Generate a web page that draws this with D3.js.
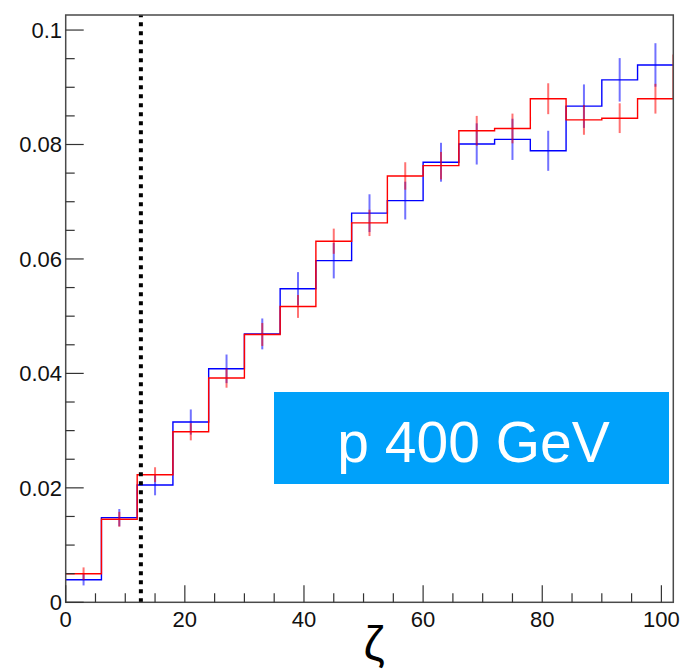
<!DOCTYPE html>
<html lang="en">
<head>
  <meta charset="UTF-8">
  <title>zeta distribution - p 400 GeV</title>
  <script src="https://d3js.org/d3.v7.min.js"></script>
  <style>
    body { margin: 0; background: #fff; }
    text { font-family: "Liberation Sans", Arial, sans-serif; }
  </style>
</head>
<body>
  <div id="chart"></div>
  <script>
    // bin low edges (width 6), last bin sits past the frame and gets clipped
    const zetaEdges = [0, 6, 12, 18, 24, 30, 36, 42, 48, 54, 60, 66, 72, 78, 84, 90, 96, 102, 108];
    const blueValues = [0.00395, 0.0148, 0.0205, 0.0315, 0.0408, 0.0469, 0.0548, 0.0597, 0.0680, 0.0702,
      0.0769, 0.0801, 0.0809, 0.0789, 0.0867, 0.0913, 0.0939, 0.0939];
    const blueErrors = [0.0010, 0.0015, 0.0018, 0.0022, 0.0025, 0.0027, 0.0029, 0.0031, 0.0033, 0.0033,
      0.0034, 0.0036, 0.0036, 0.0035, 0.0038, 0.0038, 0.0038, 0.0038];
    const redValues = [0.0050, 0.0145, 0.0223, 0.0298, 0.0392, 0.0468, 0.0517, 0.0631, 0.0663, 0.0745,
      0.0763, 0.0824, 0.0828, 0.0880, 0.0843, 0.0846, 0.0880, 0.0956];
    const redErrors = [0.0011, 0.0013, 0.0013, 0.0015, 0.0017, 0.0020, 0.0020, 0.0022, 0.0023, 0.0024,
      0.0024, 0.0026, 0.0026, 0.0027, 0.0026, 0.0026, 0.0026, 0.0027];
    const xTicks = [0, 20, 40, 60, 80, 100];
    const yTicks = [0, 0.02, 0.04, 0.06, 0.08, 0.1];
    const yTickLabels = ["0", "0.02", "0.04", "0.06", "0.08", "0.1"];
    const cutValue = 12.62;
    const xDomain = [0, 102];
    const yDomain = [0, 0.10263];

    const W = 681, H = 671;
    const frame = { left: 65.7, right: 673.3, top: 15, bottom: 602.3 };

    const svg = d3.select("#chart").append("svg")
      .attr("width", W).attr("height", H);

    const x = d3.scaleLinear().domain(xDomain).range([frame.left, frame.right]);
    const y = d3.scaleLinear().domain(yDomain).range([frame.bottom, frame.top]);

    svg.append("clipPath").attr("id", "plotClip")
      .append("rect")
      .attr("x", frame.left).attr("y", frame.top)
      .attr("width", frame.right - frame.left)
      .attr("height", frame.bottom - frame.top);

    const plot = svg.append("g").attr("clip-path", "url(#plotClip)");

    // histograms as step lines
    function drawHist(values, errors, color) {
      const pts = values.map((v, i) => [zetaEdges[i], v]);
      pts.push([zetaEdges[values.length], values[values.length - 1]]);
      const line = d3.line()
        .x(d => x(d[0]))
        .y(d => y(d[1]))
        .curve(d3.curveStepAfter);
      plot.append("path")
        .datum(pts)
        .attr("d", line)
        .attr("fill", "none")
        .attr("stroke", color)
        .attr("stroke-width", 1.4);

      plot.selectAll(null)
        .data(values)
        .enter().append("line")
        .attr("x1", (d, i) => x((zetaEdges[i] + zetaEdges[i + 1]) / 2))
        .attr("x2", (d, i) => x((zetaEdges[i] + zetaEdges[i + 1]) / 2))
        .attr("y1", (d, i) => y(d - errors[i]))
        .attr("y2", (d, i) => y(d + errors[i]))
        .attr("stroke", color)
        .attr("stroke-width", 2)
        .attr("opacity", 0.55);
    }

    drawHist(blueValues, blueErrors, "#0000ff");
    drawHist(redValues, redErrors, "#ff0000");

    // dotted cut line
    plot.append("line")
      .attr("x1", x(cutValue)).attr("x2", x(cutValue))
      .attr("y1", y(0)).attr("y2", frame.top)
      .attr("stroke", "#000")
      .attr("stroke-width", 4)
      .attr("stroke-dasharray", "4,5");

    // frame
    svg.append("rect")
      .attr("x", frame.left).attr("y", frame.top)
      .attr("width", frame.right - frame.left)
      .attr("height", frame.bottom - frame.top)
      .attr("fill", "none")
      .attr("stroke", "#4a4a4a")
      .attr("stroke-width", 1.5);

    // y axis ticks
    const yMinor = d3.range(0, 0.1 + 1e-9, 0.005);
    svg.selectAll(null).data(yMinor).enter().append("line")
      .attr("x1", frame.left).attr("x2", (d, i) => frame.left + (i % 4 === 0 ? 18 : 9))
      .attr("y1", d => y(d)).attr("y2", d => y(d))
      .attr("stroke", "#333").attr("stroke-width", 1.2);

    svg.selectAll(null).data(yTicks).enter().append("text")
      .attr("x", 62)
      .attr("y", d => y(d))
      .attr("dy", "0.36em")
      .attr("text-anchor", "end")
      .attr("font-size", 22)
      .attr("fill", "#111")
      .text((d, i) => yTickLabels[i]);

    // x axis ticks
    const xMinor = d3.range(0, 100 + 1e-9, 5);
    svg.selectAll(null).data(xMinor).enter().append("line")
      .attr("x1", d => x(d)).attr("x2", d => x(d))
      .attr("y1", frame.bottom).attr("y2", (d, i) => frame.bottom - (i % 4 === 0 ? 17 : 9))
      .attr("stroke", "#333").attr("stroke-width", 1.2);

    svg.selectAll(null).data(xTicks).enter().append("text")
      .attr("x", d => x(d))
      .attr("y", 627)
      .attr("text-anchor", "middle")
      .attr("font-size", 22)
      .attr("fill", "#111")
      .text(d => d);

    svg.append("text")
      .attr("x", 374).attr("y", 660)
      .attr("text-anchor", "middle")
      .attr("font-size", 48)
      .attr("fill", "#000")
      .text("ζ");

    // label box
    svg.append("rect")
      .attr("x", 274).attr("y", 392)
      .attr("width", 395).attr("height", 92)
      .attr("fill", "#00a1fa");

    svg.append("text")
      .attr("x", 473.5).attr("y", 462)
      .attr("text-anchor", "middle")
      .attr("font-size", 57)
      .attr("fill", "#fff")
      .text("p 400 GeV");
  </script>
</body>
</html>
